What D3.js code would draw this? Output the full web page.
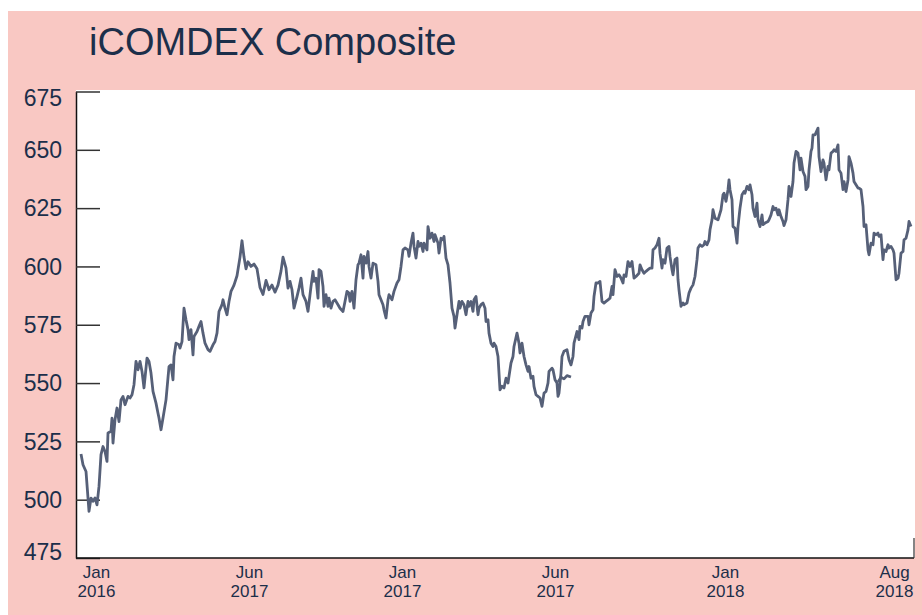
<!DOCTYPE html>
<html>
<head>
<meta charset="utf-8">
<script src="https://cdn.jsdelivr.net/npm/d3@7"></script>
<style>
  body { margin: 0; background: #fff; }
  svg { display: block; font-family: "Liberation Sans", Arial, sans-serif; }
</style>
</head>
<body>
<div id="chart"></div>
<script>
// trading session index (since start of series) and index close
const sessions = [
  1,3,6,9,11,13,15,17,19,21,
  23,25,27,28,31,32,33,35,37,39,
  41,43,45,48,50,52,54,56,58,60,
  62,64,67,69,71,73,76,78,79,81,
  83,86,89,91,93,94,96,99,100,102,
  104,106,108,109,111,113,114,117,119,121,
  123,125,128,130,133,135,137,139,142,143,
  145,147,149,151,154,157,160,162,164,166,
  168,171,174,177,180,183,186,189,192,195,
  198,201,203,206,208,210,212,214,217,219,
  221,223,226,228,231,233,234,236,238,239,
  241,243,244,246,248,249,251,253,255,258,
  260,263,265,267,269,270,272,274,276,278,
  279,281,283,284,286,288,289,291,293,296,
  298,299,301,303,304,306,308,309,312,314,
  317,319,321,323,325,328,329,331,333,334,
  336,338,339,341,343,344,347,348,350,352,
  354,355,358,359,361,363,364,366,368,370,
  372,374,375,377,379,380,382,384,386,388,
  389,391,393,394,396,398,399,401,403,405,
  406,408,409,411,413,414,416,418,420,422,
  424,426,428,429,431,433,434,437,439,440,
  442,444,446,448,449,451,453,454,456,458,
  460,462,464,466,468,469,472,473,475,477,
  478,479,481,482,484,487,489,491,493,494,
  497,499,500,502,503,505,508,509,511,513,
  514,516,518,520,522,524,526,528,530,532,
  533,535,537,539,541,543,544,546,548,550,
  552,553,554,556,559,560,562,564,566,568,
  570,572,573,575,577,579,580,582,583,585,
  587,589,590,592,593,595,597,598,599,601,
  603,604,607,609,611,613,615,617,618,620,
  622,624,625,627,629,630,632,633,635,638,
  639,641,643,644,646,648,649,650,652,653,
  655,657,658,660,662,664,665,667,669,670,
  672,673,675,677,678,680,682,683,685,688,
  689,691,693,694,696,698,699,701,703,704,
  706,708,709,711,713,714,716,718,720,721,
  723,725,726,728,729,731,732,733,735,738,
  739,741,743,744,746,748,749,751,753,754,
  756,758,759,761,763,764,766,768,769,771,
  773,774,776,778,779,781,783,784,786,788,
  789,791,793,794,796,798,799,801,803,804,
  806,808,809,811,813,814,816,818,819,821,
  823,824,826,828,829,831
];
const closes = [
  519.6,515,512.1,495,500.7,499.3,500.7,497.8,505.7,519.3,
  522.8,520.7,516.4,528.6,529.3,535,524.3,534.3,539.3,533.5,
  542.8,544.3,540.7,544.3,543.6,545,549.3,559.3,555.7,559.3,
  555,547.9,560.7,559.3,554.3,546.4,541.4,537.1,535,530,
  535,542.8,557.1,557.8,551.4,561.4,567.1,566.4,565,567.8,
  582.1,577.1,572.9,568.6,572.9,562.1,570,572.1,574.3,576.4,
  571.4,567.1,564.3,563.6,566.4,567.8,571.4,580.7,583.6,585.7,
  582.1,579.3,585,589.3,592,596,604,611,604,599,
  602,600,601,599,591,588,594,590,592,589,
  592,598,604,599.3,590.7,593.6,590,582.1,587.1,590.7,
  595,587.9,585,580.7,591.4,597.9,593.6,595,586.4,598.6,
  597.9,591.4,582.9,587.9,582.9,586.4,582.1,585,585.7,583.6,
  582.1,580.7,585,589.3,588.6,585,589.3,582.1,594.3,600.7,
  601.4,605,595,604.3,601.4,606.4,600,595,601.4,600.7,
  593.6,587.9,585.7,583.6,581.4,577.9,585.7,587.9,585.7,589.3,
  592.9,594.3,600,607.1,607.9,607.1,604.3,610,614.3,608.6,
  603.6,610.7,608.6,610,606.4,610,607.1,617.1,612.1,614.3,
  610.7,613.6,610,605.7,612.1,611.4,612.9,603.6,600.7,592.9,
  582.1,578.6,573.6,579.3,585,582.1,585,583.6,579.3,585,
  582.9,585,580.7,585.7,587.1,579.3,582.1,583.6,584.3,582.1,
  576.4,577.1,571.4,567.1,565.7,567.1,565.7,561.4,547.1,548.6,
  547.9,552.1,550,552.9,558.6,561.4,565.7,571.4,567.1,562.9,
  567.1,561.4,557.8,555,557.1,552.1,552.9,548.6,545,544.3,
  543.6,540,545.7,546.4,550,555,556.4,555.7,551.4,550,
  544.3,545.7,554.3,561.4,563.6,564.3,560,557.8,561.4,567.1,
  572.1,568.6,574.3,573.6,576.4,578.6,578.6,575,580,581.4,
  587.1,592.9,592.9,593.6,585,584.3,585,585.7,586.4,591.4,
  587.9,598.6,595.7,596.4,595,592.9,596.4,595.7,602.1,600,
  602.1,598.6,595,595.7,597.1,600.7,598.6,597.1,597.9,598.6,
  599.3,599.3,607.1,607.9,609.3,612.1,605.7,599.3,602.9,601.4,
  607.9,608.6,604.3,598.6,596.4,602.9,603.6,594.3,590,582.9,
  584.3,583.6,584.3,588.6,590.7,592.1,595.7,602.9,607.9,609.3,
  608.6,609.3,610.7,609.3,611.4,615.7,620,624.3,620.7,620,
  621.4,624.3,630.7,631.4,627.9,632.9,637.1,632.9,628.6,617.1,
  616.4,610,617.1,625,630.7,632.1,631.4,634.3,632.9,635,
  630.7,625,621.4,627.1,620,617.1,622.1,617.9,618.6,619.3,
  620,622.1,625.7,624.3,625,622.1,624.3,621.4,619.3,617.5,
  620,628.6,634.3,630,636.4,644.3,649.3,648.6,641.4,646.4,
  640.7,638.6,632.9,634.3,641.4,649.3,650.7,656.4,656.4,659.3,
  647.1,640.7,645.7,644.3,637.1,642.9,641.4,648.6,649.3,650,
  649.3,652.1,641.4,640,632.9,636.4,632.1,637.1,647.1,644.3,
  640,636.4,635,633.6,633.6,632.9,625.7,617.1,617.9,607.1,
  605,610,609.3,614.3,613.6,614.3,612.9,613.6,602.9,607.1,
  606.4,609.3,607.9,608.6,607.1,605.7,594.3,595,597.1,605.7,
  606.4,611.4,612.1,615.7,619.3,617.1
];

// short overlapping stretch that the source draws on top of the main series
const overlapSessions = [478, 481, 484, 487, 491];
const overlapCloses = [550.5, 552.5, 551.8, 553.2, 552.6];

const yTicks = [475, 500, 525, 550, 575, 600, 625, 650, 675];
const xTickSessions = [16, 169, 322, 475, 645, 814];
const xTickMonths = ["Jan", "Jun", "Jan", "Jun", "Jan", "Aug"];
const xTickYears = ["2016", "2017", "2017", "2017", "2018", "2018"];

const width = 922, height = 615;
const plot = {left: 76, right: 915, top: 90, bottom: 558};
const textColor = "#1c2f4a";
const lineColor = "#566078";

const svg = d3.select("#chart")
  .append("svg")
    .attr("width", width)
    .attr("height", height);

// Background and plot panel
svg.append("rect")
  .attr("x", 8).attr("y", 11)
  .attr("width", width - 8).attr("height", height - 11)
  .attr("fill", "#f9c8c3");
svg.append("rect")
  .attr("x", plot.left).attr("y", plot.top)
  .attr("width", plot.right - plot.left).attr("height", plot.bottom - plot.top)
  .attr("fill", "#fff");

svg.append("text")
  .attr("x", 89).attr("y", 55)
  .attr("font-size", 38)
  .attr("fill", textColor)
  .text("iCOMDEX Composite");

// Scales
const x = d3.scaleLinear()
  .domain([0, 832])
  .range([80, 912]);
const y = d3.scaleLinear()
  .domain([475, 675])
  .range([plot.bottom, 91.5]);

// Y axis, ticks pointing into the panel
const yAxis = svg.append("g")
  .attr("transform", "translate(" + plot.left + ",0)")
  .call(d3.axisLeft(y).tickValues(yTicks).tickSizeInner(-24).tickSizeOuter(0).tickPadding(14));
yAxis.select(".domain").attr("stroke", "#111").attr("stroke-width", 1.5);
yAxis.selectAll(".tick line").attr("stroke", "#333").attr("stroke-width", 1.5);
yAxis.selectAll(".tick text")
  .attr("font-size", 23)
  .attr("font-family", "Liberation Sans, Arial, sans-serif")
  .attr("fill", textColor)
  .attr("dy", d => d === 675 ? "0.62em" : d === 475 ? "0.06em" : "0.34em");

// X axis labels (two lines each)
const xAxis = svg.append("g")
  .attr("transform", "translate(0," + plot.bottom + ")")
  .call(d3.axisBottom(x).tickValues(xTickSessions).tickSize(0));
xAxis.select(".domain").remove();
xAxis.selectAll(".tick text")
  .attr("font-size", 17)
  .attr("font-family", "Liberation Sans, Arial, sans-serif")
  .attr("fill", textColor)
  .attr("y", 0).attr("dy", null)
  .text(null)
  .each(function (d, i) {
    const t = d3.select(this);
    t.append("tspan").attr("x", 0).attr("y", 20).text(xTickMonths[i]);
    t.append("tspan").attr("x", 0).attr("y", 39).text(xTickYears[i]);
  });

// Bottom frame line and right end tick
svg.append("line")
  .attr("x1", plot.left).attr("x2", plot.right - 1)
  .attr("y1", plot.bottom).attr("y2", plot.bottom)
  .attr("stroke", "#111").attr("stroke-width", 1.5);
svg.append("line")
  .attr("x1", plot.right - 1).attr("x2", plot.right - 1)
  .attr("y1", plot.bottom - 20).attr("y2", plot.bottom)
  .attr("stroke", "#333").attr("stroke-width", 1.2);

// Series
const line = d3.line()
  .x(d => x(d[0]))
  .y(d => y(d[1]));

[d3.zip(sessions, closes), d3.zip(overlapSessions, overlapCloses)].forEach(series => {
  svg.append("path")
    .datum(series)
    .attr("d", line)
    .attr("fill", "none")
    .attr("stroke", lineColor)
    .attr("stroke-width", 2.8)
    .attr("stroke-linejoin", "round");
});
</script>
</body>
</html>
